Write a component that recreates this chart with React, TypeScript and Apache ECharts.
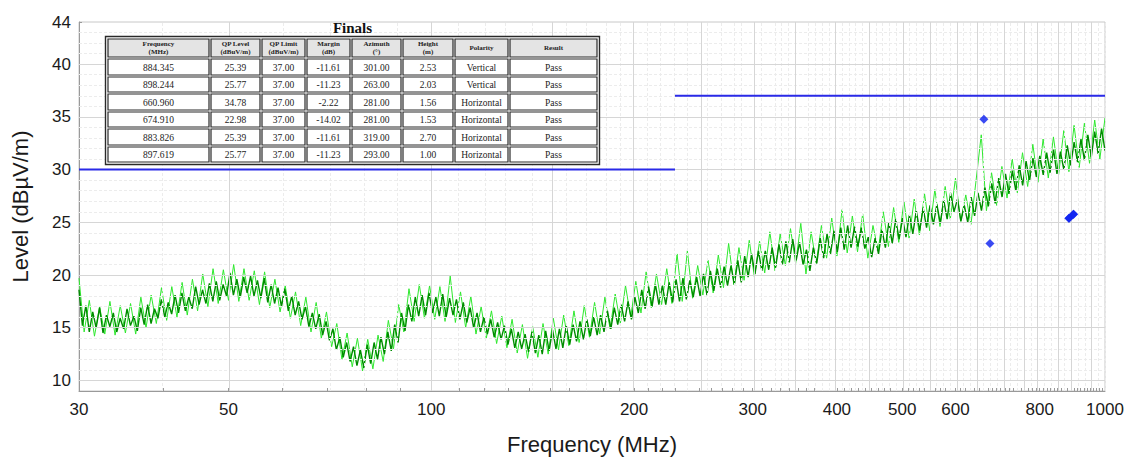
import React, { useEffect, useRef } from "react";
import * as echarts from "echarts";

// ---------- data ----------
const sweepStart = 30;
const sweepStop = 1000;

// dark (core) trace, levels in dBµV/m on a log sweep 30..1000 MHz
const darkTraceLevels = [
  18.6, 15.2, 17.1, 14.6, 16.5, 15.0, 16.9, 14.5, 16.2, 15.1,
  16.4, 14.6, 15.9, 14.9, 16.8, 15.2, 16.1, 14.7, 16.9, 15.3,
  17.2, 15.4, 16.8, 15.9, 17.7, 16.0, 17.4, 16.3, 18.1, 16.4,
  18.3, 16.6, 17.9, 16.8, 18.9, 17.2, 18.6, 17.3, 19.2, 17.5,
  19.4, 17.6, 19.1, 18.0, 20.2, 18.1, 19.6, 17.9, 19.8, 18.3,
  19.9, 18.0, 19.5, 17.8, 19.7, 17.4, 19.1, 17.3, 18.8, 17.0,
  18.7, 16.6, 18.0, 16.2, 17.5, 15.8, 17.0, 15.1, 16.4, 14.9,
  16.3, 14.3, 15.6, 13.8, 14.9, 12.9, 14.1, 12.2, 13.6, 11.8,
  13.2, 11.4, 12.9, 11.2, 13.4, 11.6, 13.6, 12.0, 14.1, 12.5,
  14.6, 12.8, 15.3, 13.6, 16.4, 14.7, 17.2, 15.6, 17.9, 16.1,
  18.1, 16.2, 18.3, 16.4, 17.9, 16.1, 18.2, 16.0, 17.8, 16.2,
  17.7, 15.8, 17.4, 15.5, 16.9, 15.0, 16.4, 14.6, 16.0, 14.4,
  15.8, 14.1, 15.5, 13.9, 15.2, 13.4, 14.9, 13.1, 14.6, 13.0,
  14.4, 12.7, 14.6, 12.6, 14.3, 12.5, 14.7, 12.8, 14.8, 13.0,
  14.9, 13.1, 15.2, 13.4, 15.3, 13.7, 15.6, 13.9, 15.8, 14.2,
  16.0, 14.3, 16.2, 14.6, 16.6, 14.9, 16.9, 15.3, 17.2, 15.6,
  17.5, 15.8, 17.9, 16.4, 18.6, 16.8, 18.9, 17.0, 19.1, 17.2,
  19.0, 17.2, 19.3, 17.4, 19.6, 17.5, 19.7, 17.7, 19.5, 17.9,
  19.8, 18.0, 20.1, 18.1, 20.4, 18.5, 20.6, 18.8, 20.8, 19.0,
  20.9, 19.1, 21.4, 19.3, 21.8, 19.8, 22.0, 20.1, 22.3, 20.4,
  22.3, 20.5, 22.6, 20.7, 22.9, 21.0, 23.2, 21.2, 23.4, 21.4,
  23.1, 21.0, 22.4, 20.4, 22.6, 21.1, 23.5, 21.6, 23.9, 22.0,
  24.2, 22.2, 24.5, 22.4, 24.7, 22.6, 24.6, 22.7, 24.5, 22.5,
  23.6, 21.7, 23.5, 22.0, 24.3, 22.6, 25.0, 23.0, 25.3, 23.4,
  25.4, 23.6, 25.7, 23.9, 26.1, 24.2, 26.4, 24.5, 26.6, 24.8,
  26.7, 24.9, 27.1, 25.3, 27.8, 26.0, 27.2, 25.1, 26.6, 25.0,
  27.4, 25.6, 27.8, 26.1, 28.3, 26.5, 28.7, 26.8, 29.2, 27.4,
  29.6, 27.7, 29.9, 28.0, 30.4, 28.5, 30.8, 28.9, 31.1, 29.3,
  31.3, 29.5, 31.6, 29.7, 31.9, 29.6, 31.7, 30.0, 32.3, 30.4,
  32.6, 30.7, 32.9, 30.9, 33.3, 31.2, 33.6, 31.5, 33.9, 31.8,
];

// light (peak) trace on its own log sweep 30..1000 MHz
const lightTraceLevels = [
  19.7, 14.6, 17.6, 14.2, 17.0, 14.4, 17.5, 14.3, 17.1, 14.5,
  17.3, 14.4, 17.9, 15.0, 18.1, 15.4, 18.8, 15.7, 18.9, 16.0,
  19.3, 16.2, 19.6, 16.6, 20.1, 17.0, 20.6, 17.3, 20.5, 17.6,
  21.0, 17.5, 20.6, 17.6, 20.4, 17.2, 20.3, 16.9, 19.6, 16.5,
  19.0, 15.9, 18.4, 15.2, 17.9, 14.6, 17.4, 14.0, 16.5, 13.2,
  15.4, 12.0, 14.5, 11.3, 14.0, 10.9, 13.9, 11.1, 14.3, 11.8,
  15.7, 13.0, 17.2, 14.6, 18.7, 15.6, 19.1, 15.9, 19.0, 15.8,
  18.9, 15.6, 19.9, 15.5, 18.4, 15.0, 18.0, 14.4, 17.0, 14.0,
  16.6, 13.5, 16.1, 13.1, 15.8, 12.6, 15.3, 12.1, 15.1, 12.2,
  15.4, 12.5, 15.9, 12.9, 16.2, 13.3, 16.6, 13.6, 17.1, 14.1,
  17.4, 14.4, 17.9, 14.9, 18.2, 15.4, 19.0, 16.0, 19.4, 16.4,
  20.3, 16.9, 20.1, 17.2, 20.6, 17.3, 22.0, 17.5, 22.3, 17.8,
  20.9, 18.1, 21.4, 18.3, 21.9, 18.8, 23.0, 19.1, 22.6, 19.5,
  23.3, 19.8, 23.2, 20.2, 24.1, 20.4, 23.9, 20.9, 24.4, 21.1,
  24.9, 20.1, 24.1, 21.1, 24.7, 21.6, 25.4, 21.8, 26.2, 22.1,
  25.6, 22.2, 25.8, 21.6, 24.7, 22.3, 26.0, 22.7, 26.4, 23.1,
  27.0, 23.5, 27.2, 23.8, 27.7, 24.2, 28.1, 24.6, 28.4, 25.3,
  29.2, 25.1, 27.6, 24.8, 29.0, 33.3, 26.1, 29.7, 26.6, 30.3,
  27.3, 31.0, 27.8, 31.6, 28.4, 32.4, 28.8, 32.9, 29.2, 33.1,
  29.5, 33.7, 29.8, 34.2, 30.2, 34.4, 30.6, 34.7, 31.0, 34.9,
];

const limitFrom = [30, 230];
const limitTo = [230, 1000];
const limitLevel = [30, 37];

// Finals table
const finalsFreq = [884.345, 898.244, 660.96, 674.91, 883.826, 897.619];
const finalsFreqText = ["884.345", "898.244", "660.960", "674.910", "883.826", "897.619"];
const qpLevel = [25.39, 25.77, 34.78, 22.98, 25.39, 25.77];
const qpLimit = [37.0, 37.0, 37.0, 37.0, 37.0, 37.0];
const marginDb = [-11.61, -11.23, -2.22, -14.02, -11.61, -11.23];
const azimuth = [301.0, 263.0, 281.0, 281.0, 319.0, 293.0];
const heightM = [2.53, 2.03, 1.56, 1.53, 2.7, 1.0];
const polarity = ["Vertical", "Vertical", "Horizontal", "Horizontal", "Horizontal", "Horizontal"];
const result = ["Pass", "Pass", "Pass", "Pass", "Pass", "Pass"];
const tableHeaders = [
  "Frequency\n(MHz)",
  "QP Level\n(dBuV/m)",
  "QP Limit\n(dBuV/m)",
  "Margin\n(dB)",
  "Azimuth\n(°)",
  "Height\n(m)",
  "Polarity",
  "Result",
];

const xTickLabels = [30, 50, 100, 200, 300, 400, 500, 600, 800, 1000];
const yTickLabels = [10, 15, 20, 25, 30, 35, 40, 44];
const yMin = 9;
const yMax = 44;

// ---------- helpers ----------
const lg = (f: number) => Math.log10(f);

function sweep(levels: number[]) {
  const a = lg(sweepStart);
  const b = lg(sweepStop);
  const n = levels.length;
  return levels.map((v, i) => [a + ((b - a) * i) / (n - 1), v]);
}

function buildTable() {
  const colX = [107, 210, 261, 306, 351, 402, 454, 509, 598];
  const rowY = [38, 58, 76, 93, 111, 128, 146, 163];
  const els: any[] = [];
  els.push({
    type: "rect",
    shape: { x: colX[0] - 1.5, y: rowY[0] - 1.5, width: colX[8] - colX[0] + 3, height: rowY[7] - rowY[0] + 3 },
    style: { fill: "#ffffff", stroke: "#2a2a2a", lineWidth: 1.4 },
    z: 100,
  });
  els.push({
    type: "text",
    style: {
      text: "Finals",
      x: (colX[0] + colX[8]) / 2,
      y: 28,
      font: 'bold 15px "Liberation Serif", "Times New Roman", serif',
      fill: "#111",
      align: "center",
      verticalAlign: "middle",
    },
    z: 101,
  });
  const rows: string[][] = [tableHeaders];
  for (let i = 0; i < finalsFreq.length; i++) {
    rows.push([
      finalsFreqText[i],
      qpLevel[i].toFixed(2),
      qpLimit[i].toFixed(2),
      marginDb[i].toFixed(2),
      azimuth[i].toFixed(2),
      heightM[i].toFixed(2),
      polarity[i],
      result[i],
    ]);
  }
  for (let r = 0; r < rows.length; r++) {
    for (let c = 0; c < 8; c++) {
      const x0 = colX[c] + 1;
      const y0 = rowY[r] + 1;
      const w = colX[c + 1] - colX[c] - 2;
      const h = rowY[r + 1] - rowY[r] - 2;
      els.push({
        type: "rect",
        shape: { x: x0, y: y0, width: w, height: h },
        style: { fill: r === 0 ? "#e4e4e4" : "#ffffff", stroke: "#2a2a2a", lineWidth: 1.2 },
        z: 101,
      });
      els.push({
        type: "text",
        style: {
          text: rows[r][c],
          x: x0 + w / 2,
          y: y0 + h / 2 + (r === 0 ? 0 : 0.5),
          font:
            r === 0
              ? 'bold 7px "Liberation Serif", "Times New Roman", serif'
              : '9.5px "Liberation Serif", "Times New Roman", serif',
          lineHeight: 8,
          fill: "#222",
          align: "center",
          verticalAlign: "middle",
        },
        z: 102,
      });
    }
  }
  return els;
}

function gridMarkSeries(name: string, xs: number[], ys: number[], color: string, type: any) {
  return {
    name,
    type: "line",
    data: [[lg(30), yMin]],
    symbol: "none",
    lineStyle: { opacity: 0 },
    silent: true,
    z: 0,
    markLine: {
      silent: true,
      symbol: "none",
      label: { show: false },
      emphasis: { disabled: true },
      lineStyle: { color, width: 1, type },
      data: [...xs.map((v) => ({ xAxis: lg(v) })), ...ys.map((v) => ({ yAxis: v }))],
    },
  };
}

export default function App() {
  const ref = useRef<HTMLDivElement>(null);
  useEffect(() => {
    if (!ref.current) return;
    const chart = echarts.init(ref.current, undefined, { renderer: "svg" });

    const majorX: number[] = [];
    const minorX: number[] = [];
    for (let f = 40; f < 1000; f += 10) {
      if (f % 50 === 0) majorX.push(f);
      else minorX.push(f);
    }
    const majorY: number[] = [];
    const minorY: number[] = [];
    for (let v = 10; v < 44; v += 1) {
      if (v % 5 === 0) majorY.push(v);
      else minorY.push(v);
    }
    const xTicks: number[] = [];
    for (let f = 30; f <= 1000; f += 10) xTicks.push(lg(f));
    const yTicks: number[] = [];
    for (let v = yMin; v <= yMax; v += 1) yTicks.push(v);

    const font = '"Liberation Sans", Arial, sans-serif';

    chart.setOption({
      animation: false,
      backgroundColor: "#ffffff",
      grid: {
        left: 79,
        right: 23,
        top: 22,
        bottom: 68,
        show: true,
        borderColor: "#c8c8c8",
        borderWidth: 1,
        backgroundColor: "transparent",
      },
      xAxis: {
        type: "value",
        min: lg(30),
        max: lg(1000),
        name: "Frequency (MHz)",
        nameLocation: "middle",
        nameGap: 42,
        nameTextStyle: { fontSize: 22, color: "#1a1a1a", fontFamily: font },
        axisLine: { show: true, lineStyle: { color: "#9a9a9a", width: 1 } },
        axisTick: {
          show: true,
          inside: true,
          length: 3,
          customValues: xTicks,
          lineStyle: { color: "#9a9a9a" },
        },
        axisLabel: {
          customValues: xTickLabels.map(lg),
          formatter: (v: number) => String(Math.round(Math.pow(10, v))),
          fontSize: 17,
          color: "#1a1a1a",
          fontFamily: font,
          margin: 10,
        },
        splitLine: { show: false },
      },
      yAxis: {
        type: "value",
        min: yMin,
        max: yMax,
        name: "Level (dBµV/m)",
        nameLocation: "middle",
        nameGap: 48,
        nameRotate: 90,
        nameTextStyle: { fontSize: 22, color: "#1a1a1a", fontFamily: font },
        axisLine: { show: true, lineStyle: { color: "#9a9a9a", width: 1 } },
        axisTick: {
          show: true,
          inside: true,
          length: 3,
          customValues: yTicks,
          lineStyle: { color: "#9a9a9a" },
        },
        axisLabel: {
          customValues: yTickLabels,
          fontSize: 17,
          color: "#1a1a1a",
          fontFamily: font,
          margin: 8,
        },
        splitLine: { show: false },
      },
      series: [
        gridMarkSeries("minorGrid", minorX, minorY, "#ececec", [3, 2]),
        gridMarkSeries("majorGrid", majorX, majorY, "#d6d6d6", "solid"),
        {
          name: "Peak",
          type: "line",
          data: sweep(lightTraceLevels),
          symbol: "none",
          lineStyle: { color: "#2ee82e", width: 1 },
          z: 3,
          silent: true,
        },
        {
          name: "Trace",
          type: "line",
          data: sweep(darkTraceLevels),
          symbol: "none",
          lineStyle: { color: "#008c00", width: 1.4 },
          z: 4,
          silent: true,
        },
        ...limitFrom.map((f, i) => ({
          name: "QP Limit",
          type: "line",
          data: [
            [lg(f), limitLevel[i]],
            [lg(limitTo[i]), limitLevel[i]],
          ],
          symbol: "none",
          lineStyle: { color: "#2a2ae8", width: 2 },
          z: 5,
          silent: true,
        })),
        {
          name: "Finals",
          type: "scatter",
          data: finalsFreq.map((f, i) => [lg(f), qpLevel[i]]),
          symbol: "diamond",
          symbolSize: 9,
          itemStyle: { color: "#0a1ef0" },
          z: 6,
          silent: true,
        },
      ],
      graphic: buildTable(),
    });
    return () => chart.dispose();
  }, []);
  return (
    <div
      ref={ref}
      style={{ position: "fixed", left: 0, top: 0, width: 1128, height: 460 }}
    />
  );
}
